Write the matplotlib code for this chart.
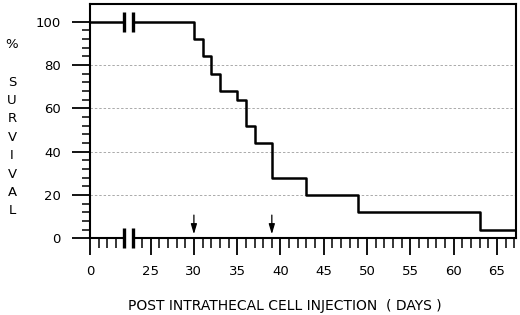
import numpy as np
import matplotlib
matplotlib.use("Agg")
import matplotlib.pyplot as plt

# survival data (days after injection, % surviving)
days = [0, 30, 31, 32, 33, 35, 36, 37, 39, 43, 49, 63]
survival = [100, 92, 84, 76, 68, 64, 52, 44, 28, 20, 12, 4]
end_day = 67.2
arrow_days = [30, 39]
xtick_days = [0, 25, 30, 35, 40, 45, 50, 55, 60, 65]
ytick_vals = [0, 20, 40, 60, 80, 100]
ylabel_letters = ['S', 'U', 'R', 'V', 'I', 'V', 'A', 'L']


def to_u(d):
    # broken axis: 0..25 days squeezed into 7 units
    d = np.asarray(d, dtype=float)
    return np.where(d >= 25, d - 18, d * 7 / 25)


fig = plt.figure(figsize=(5.2, 3.15), dpi=100)
ax = fig.add_axes([90 / 520, (315 - 238.3) / 315, 426 / 520, 234.3 / 315])

x = to_u(days + [end_day])
y = survival + [survival[-1]]
ax.step(x, y, where='post', color='black', lw=1.8, zorder=3)

ax.set_xlim(0, float(to_u(end_day)))
ax.set_ylim(0, 108.2)

for g in [20, 40, 60, 80]:
    ax.axhline(g, color='#aaaaaa', lw=0.7, ls=(0, (2.5, 2)), zorder=1)

# ticks
ax.set_xticks(to_u(xtick_days))
ax.set_xticklabels([str(d) for d in xtick_days])
major_u = set(np.round(to_u(xtick_days)).astype(int))
minor_u = [u for u in range(0, 50) if u not in major_u and u not in (4, 5)]
ax.set_xticks(minor_u, minor=True)
ax.set_yticks(ytick_vals)
ax.set_yticks(np.arange(0, 101, 4), minor=True)

ax.tick_params(axis='x', which='major', direction='out', length=12, width=1.3, pad=7, labelsize=9.5)
ax.tick_params(axis='x', which='minor', direction='out', length=7, width=1.1)
ax.tick_params(axis='y', which='major', direction='out', length=13, width=1.3, pad=8, labelsize=9.5)
ax.tick_params(axis='y', which='minor', direction='out', length=6, width=1.1)

for s in ax.spines.values():
    s.set_linewidth(1.5)
    s.set_color('black')

# axis break marks
for yb in [100, 0]:
    ax.fill_between([3.9, 4.95], yb - 1, yb + 1, color='white', zorder=4, lw=0, clip_on=False)
    for xb in [3.9, 4.95]:
        ax.plot([xb, xb], [yb - 4.6, yb + 4.6], color='black', lw=2.4, zorder=5,
                clip_on=False, solid_capstyle='butt')

# arrows marking treatment days
for d in arrow_days:
    u = float(to_u(d))
    ax.annotate('', xy=(u, 0.6), xytext=(u, 12),
                arrowprops=dict(arrowstyle='-|>,head_length=0.6,head_width=0.18',
                                color='black', lw=0.9), zorder=6)

fig.text(284.5 / 520, (315 - 305.7) / 315, 'POST INTRATHECAL CELL INJECTION  ( DAYS )',
         ha='center', va='center', fontsize=10)
fig.text(12 / 520, (315 - 45) / 315, '%', ha='center', va='center', fontsize=9.5)
for i, ch in enumerate(ylabel_letters):
    fig.text(12 / 520, (315 - (82 + i * 18.4)) / 315, ch, ha='center', va='center', fontsize=9.5)

fig.savefig('out.png', dpi=100)
